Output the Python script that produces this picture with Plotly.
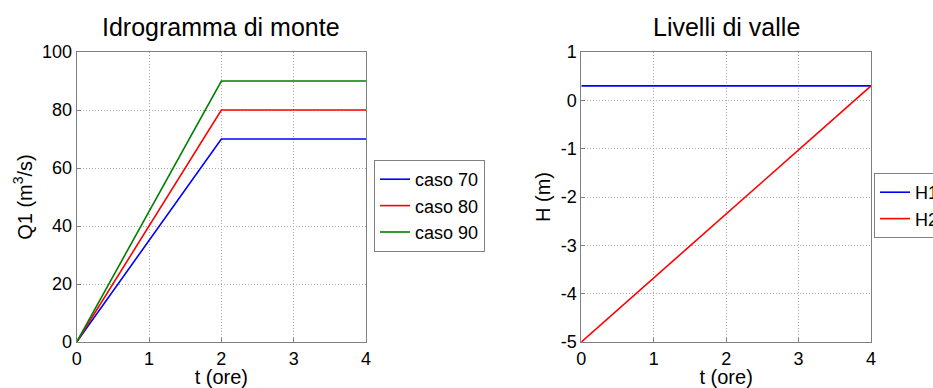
import plotly.graph_objects as go

# Upstream hydrographs: linear rise to peak at t=2 h, then constant
t_up = [0, 2, 4]
caso_70 = [0, 70, 70]
caso_80 = [0, 80, 80]
caso_90 = [0, 90, 90]

# Downstream water levels
t_down = [0, 4]
h1 = [0.3, 0.3]
h2 = [-5, 0.3]

x_ticks = [0, 1, 2, 3, 4]
q_ticks = [0, 20, 40, 60, 80, 100]
h_ticks = [-5, -4, -3, -2, -1, 0, 1]
h_tick_text = ["-5", "-4", "-3", "-2", "-1", "0", "1"]

FONT = "Liberation Sans, Arial, sans-serif"
W, H = 933, 388

fig = go.Figure()
fig.add_trace(go.Scatter(x=t_up, y=caso_70, mode="lines", name="caso 70",
                         line=dict(color="#0000ff", width=1.6), xaxis="x", yaxis="y", legend="legend"))
fig.add_trace(go.Scatter(x=t_up, y=caso_80, mode="lines", name="caso 80",
                         line=dict(color="#ff0000", width=1.6), xaxis="x", yaxis="y", legend="legend"))
fig.add_trace(go.Scatter(x=t_up, y=caso_90, mode="lines", name="caso 90",
                         line=dict(color="#008000", width=1.6), xaxis="x", yaxis="y", legend="legend"))
fig.add_trace(go.Scatter(x=t_down, y=h1, mode="lines", name="H1",
                         line=dict(color="#0000ff", width=1.6), xaxis="x2", yaxis="y2", legend="legend2"))
fig.add_trace(go.Scatter(x=t_down, y=h2, mode="lines", name="H2",
                         line=dict(color="#ff0000", width=1.6), xaxis="x2", yaxis="y2", legend="legend2"))

y_dom = [(H - 342) / H, (H - 52) / H]
x1_dom = [76.7 / W, 366 / W]
x2_dom = [581.3 / W, 871 / W]

axis_common = dict(
    showline=True, mirror=True, linecolor="#808080", linewidth=1,
    showgrid=True, gridcolor="#a8a8a8", griddash="1px,2px", gridwidth=1,
    ticks="inside", ticklen=4, tickcolor="#808080",
    zeroline=False, tickfont=dict(family=FONT, size=18, color="black"),
    title_font=dict(family=FONT, size=20, color="black"),
    automargin=False,
)

fig.update_layout(
    width=W, height=H,
    margin=dict(l=0, r=0, t=0, b=0, autoexpand=False),
    paper_bgcolor="white", plot_bgcolor="white",
    font=dict(family=FONT, color="black"),
    xaxis=dict(domain=x1_dom, anchor="y", range=[0, 4], tickvals=x_ticks,
               title=dict(text="t (ore)", standoff=1), **axis_common),
    yaxis=dict(domain=y_dom, anchor="x", range=[0, 100], tickvals=q_ticks,
               title=dict(text="Q1 (m<sup>3</sup>/s)", standoff=4), **axis_common),
    xaxis2=dict(domain=x2_dom, anchor="y2", range=[0, 4], tickvals=x_ticks,
                title=dict(text="t (ore)", standoff=1), **axis_common),
    yaxis2=dict(domain=y_dom, anchor="x2", range=[-5, 1], tickvals=h_ticks,
                ticktext=h_tick_text,
                title=dict(text="H (m)", standoff=4), **axis_common),
    legend=dict(x=374 / W, y=1 - 160 / H, xanchor="left", yanchor="top",
                bordercolor="#808080", borderwidth=1, bgcolor="white",
                font=dict(family=FONT, size=18, color="black"),
                itemwidth=30, tracegroupgap=0),
    legend2=dict(x=874 / W, y=1 - 173 / H, xanchor="left", yanchor="top",
                 bordercolor="#808080", borderwidth=1, bgcolor="white",
                 font=dict(family=FONT, size=18, color="black"),
                 itemwidth=30, tracegroupgap=0),
    annotations=[
        dict(text="Idrogramma di monte", x=(x1_dom[0] + x1_dom[1]) / 2, y=1 - 27 / H,
             xref="paper", yref="paper", xanchor="center", yanchor="middle",
             showarrow=False, font=dict(family=FONT, size=25, color="black")),
        dict(text="Livelli di valle", x=(x2_dom[0] + x2_dom[1]) / 2, y=1 - 27 / H,
             xref="paper", yref="paper", xanchor="center", yanchor="middle",
             showarrow=False, font=dict(family=FONT, size=25, color="black")),
    ],
    showlegend=True,
)

fig.write_html("out.html")
